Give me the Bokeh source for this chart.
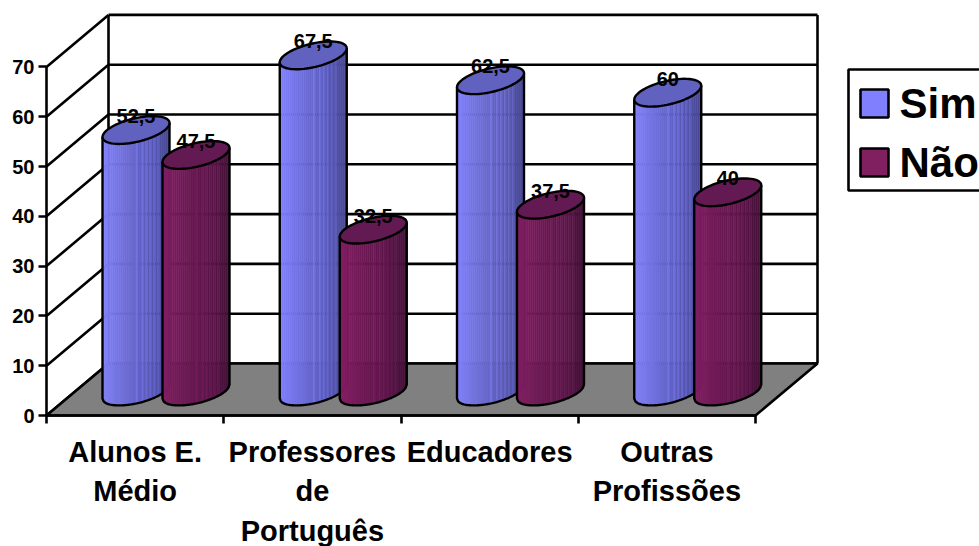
from bokeh.embed import file_html
from bokeh.resources import INLINE
from bokeh.plotting import figure
from bokeh.models import FixedTicker, LinearAxis, Range1d
from bokeh.core.properties import value
import numpy as np

# Survey results per respondent group
categories = [["Alunos E.", "Médio"], ["Professores", "de", "Português"], ["Educadores"], ["Outras", "Profissões"]]
sim = [52.5, 67.5, 62.5, 60]
nao = [47.5, 32.5, 37.5, 40]
sim_labels = ["52,5", "67,5", "62,5", "60"]
nao_labels = ["47,5", "32,5", "37,5", "40"]
y_ticks = [0, 10, 20, 30, 40, 50, 60, 70]
x_ticks = [0, 1, 2, 3, 4]

W, H = 979, 546
LEFT, BOTTOM = 46, 131
PX_X = 177.25       # pixels per category
PX_Y = 4.98         # pixels per value unit
LW = 2.6

p = figure(width=W, height=H, output_backend="svg", toolbar_location=None,
           x_range=Range1d(-LEFT / PX_X, (W - LEFT) / PX_X),
           y_range=Range1d(-BOTTOM / PX_Y, (H - BOTTOM) / PX_Y),
           min_border=0, outline_line_color=None,
           background_fill_color="white", border_fill_color="white",
           x_axis_type=None, y_axis_type=None)
p.grid.visible = False

def px(v):
    return v / PX_X

def py(v):
    return v / PX_Y

# Depth of the box, from the front-left corner to the back wall
DX, DY = px(62), py(52)

# Left wall and back wall lines
for v in y_ticks:
    p.line([0, DX], [v, v + DY], line_color="black", line_width=LW)
    p.line([DX, DX + 4], [v + DY, v + DY], line_color="black", line_width=LW)
p.line([DX, DX], [DY, 70 + DY], line_color="black", line_width=LW)
p.line([DX + 4, DX + 4], [DY, 70 + DY], line_color="black", line_width=LW)

# Floor
p.patch([0, DX, DX + 4, 4], [0, DY, DY, 0], fill_color="#808080", line_color="black", line_width=LW)

A = px(33.5)            # cylinder half width
TILT = py(7)            # rise of the right end of the elliptical caps
MINOR = py(12)          # half height of the caps
BASE = py(24)           # height of the base centre above the front edge
OFFSETS = (px(89.5), px(149.5))

def lower_edge(cx, cy, xs):
    u = np.clip((xs - cx) / A, -1, 1)
    return cy + TILT * u - MINOR * np.sqrt(1 - u ** 2)

def cap(cx, cy, n=72):
    t = np.linspace(0, 2 * np.pi, n)
    return cx + A * np.cos(t), cy + MINOR * np.sin(t) + TILT * np.cos(t)

def shade(rgb_light, rgb_dark, f):
    return tuple(int(round(a + (b - a) * f)) for a, b in zip(rgb_light, rgb_dark))

# Lighter bands in the right half of each cylinder's shading
BANDS = (0.52, 0.60, 0.66, 0.72, 0.78, 0.84)

def cylinder(cx, val, light, dark, top):
    top_y = BASE + val
    n = 34
    edges = np.linspace(cx - A, cx + A, n + 1)
    xs_list, ys_list, colors = [], [], []
    for i in range(n):
        x0, x1 = edges[i], edges[i + 1]
        f = (i + 0.5) / n
        c = shade(light, dark, f)
        if any(abs(f - b) < 0.015 for b in BANDS):
            c = tuple(min(255, int(ch * 1.16)) for ch in c)
        xx = np.array([x0, x1])
        yt = lower_edge(cx, top_y, xx)
        yb = lower_edge(cx, BASE, xx)
        xs_list.append([x0, x1, x1, x0])
        ys_list.append([yt[0], yt[1], yb[1], yb[0]])
        colors.append("#%02x%02x%02x" % c)
    p.patches(xs_list, ys_list, fill_color=colors, line_color=colors, line_width=0.6)
    # Outline of the body
    xx = np.linspace(cx - A, cx + A, 60)
    yb = lower_edge(cx, BASE, xx)
    ox = np.concatenate([[cx - A], xx, [cx + A]])
    oy = np.concatenate([[top_y - TILT], yb, [top_y + TILT]])
    p.line(ox, oy, line_color="black", line_width=LW - 0.2)
    # Top cap
    ex, ey = cap(cx, top_y)
    p.patch(ex, ey, fill_color=top, line_color="black", line_width=LW - 0.2)

SIM_COLORS = ((130, 130, 255), (72, 72, 148), "#6161bf")
NAO_COLORS = ((132, 30, 100), (70, 18, 58), "#631a52")

for i in range(4):
    cylinder(i + OFFSETS[0], sim[i], *SIM_COLORS)
    cylinder(i + OFFSETS[1], nao[i], *NAO_COLORS)

def bold_text(x, y, text, size, align="center"):
    p.text([x], [y], text=[text], text_font=value("Liberation Sans"), text_font_style="bold",
           text_font_size=size, text_align=align, text_baseline="middle", text_color="black")

# Value labels above each cap
for i in range(4):
    bold_text(i + OFFSETS[0], BASE + sim[i] + py(14), sim_labels[i], "20px")
    bold_text(i + OFFSETS[1], BASE + nao[i] + py(14), nao_labels[i], "20px")

# Axes drawn at the front-left corner of the box
yaxis = LinearAxis(ticker=FixedTicker(ticks=y_ticks), fixed_location=0, bounds=(0, 70))
yaxis.axis_line_color = "black"
yaxis.axis_line_width = LW
yaxis.major_tick_line_color = "black"
yaxis.major_tick_line_width = LW
yaxis.major_tick_out = 8
yaxis.major_tick_in = 0
yaxis.minor_tick_line_color = None
yaxis.major_label_text_color = "black"
yaxis.major_label_text_font = "Liberation Sans"
yaxis.major_label_text_font_style = "bold"
yaxis.major_label_text_font_size = "20px"
yaxis.major_label_standoff = 4
p.add_layout(yaxis, "left")

xaxis = LinearAxis(ticker=FixedTicker(ticks=x_ticks), fixed_location=0, bounds=(0, 4))
xaxis.axis_line_color = "black"
xaxis.axis_line_width = LW
xaxis.major_tick_line_color = "black"
xaxis.major_tick_line_width = LW
xaxis.major_tick_out = 8
xaxis.major_tick_in = 0
xaxis.minor_tick_line_color = None
xaxis.major_label_text_color = None
xaxis.major_label_text_font_size = "1px"
p.add_layout(xaxis, "below")

# Category names, one glyph per line
for i, lines in enumerate(categories):
    for j, line in enumerate(lines):
        bold_text(i + 0.5, -py(36 + 39.5 * j), line, "29px")

# Legend box
p.patch([px(848 - LEFT), px(990 - LEFT), px(990 - LEFT), px(848 - LEFT)],
        [py(415 - 190), py(415 - 190), py(415 - 69), py(415 - 69)],
        fill_color="white", line_color="black", line_width=LW)
for name, top_px, color in (("Sim", 89, "#8080ff"), ("Não", 148, "#802060")):
    p.patch([px(860 - LEFT), px(888 - LEFT), px(888 - LEFT), px(860 - LEFT)],
            [py(415 - top_px - 28), py(415 - top_px - 28), py(415 - top_px), py(415 - top_px)],
            fill_color=color, line_color="black", line_width=LW)
    bold_text(px(899 - LEFT), py(415 - top_px - 14), name, "42px", align="left")

open("out.html", "w").write(file_html(p, INLINE))
